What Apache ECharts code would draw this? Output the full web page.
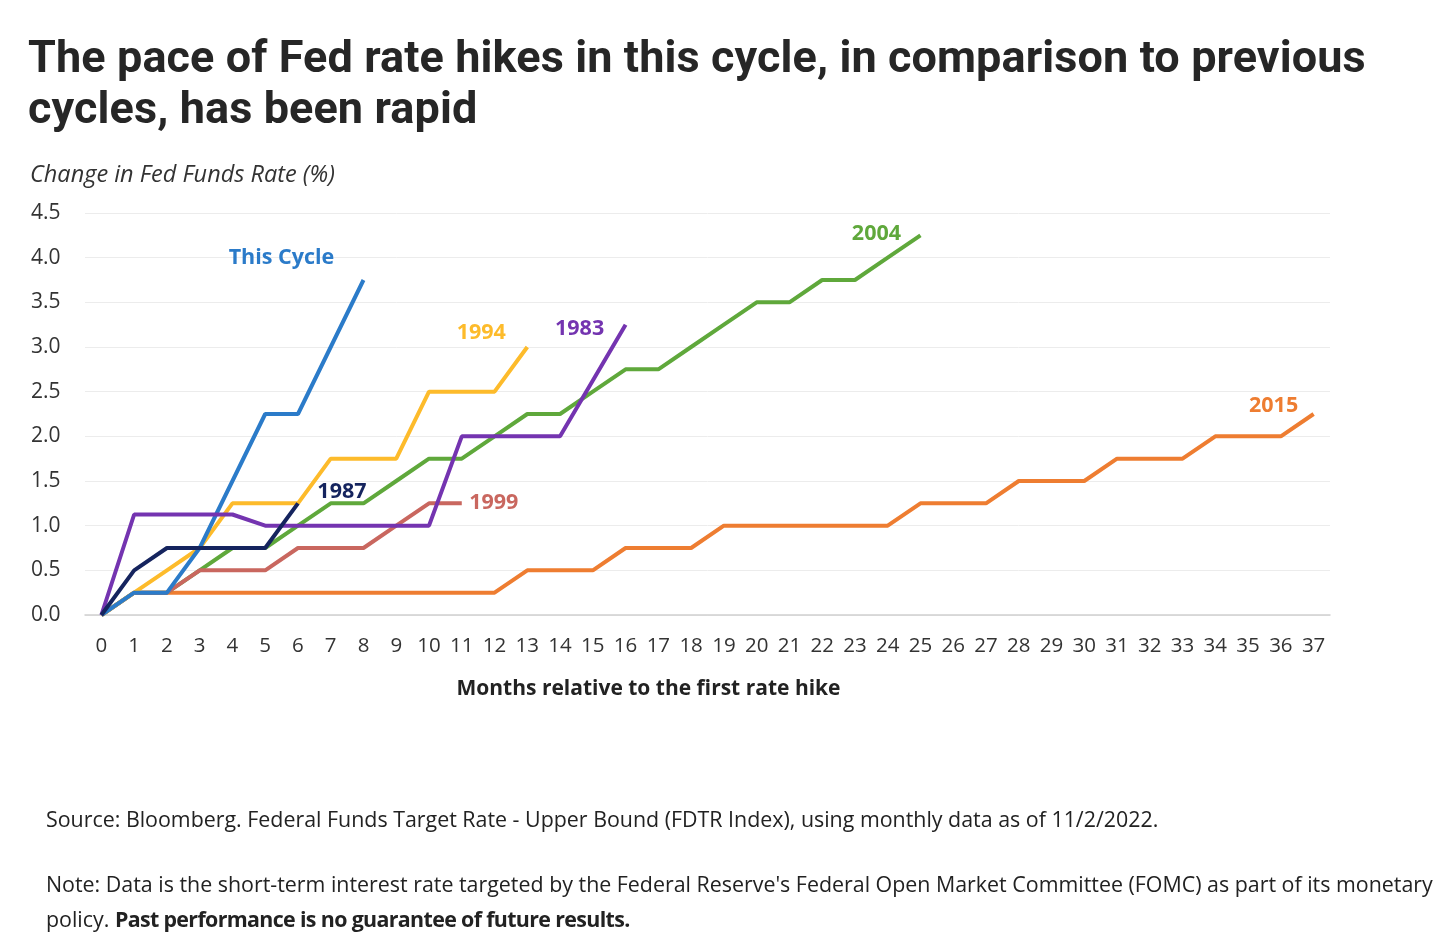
<!DOCTYPE html>
<html>
<head>
<meta charset="utf-8">
<script src="https://cdn.jsdelivr.net/npm/echarts@6/dist/echarts.min.js"></script>
<style>
  html, body { margin: 0; padding: 0; background: #fff; }
  body { width: 1456px; height: 950px; position: relative; overflow: hidden; font-family: "Open Sans", sans-serif; }
  #title { position: absolute; left: 28px; top: 31px; font-family: Roboto, sans-serif; font-weight: 700; font-size: 45px; line-height: 51px; color: #262626; letter-spacing: 0.1px; }
  #chart { position: absolute; left: 0; top: 0; width: 1456px; height: 950px; }
  .foot { position: absolute; left: 46px; font-size: 21.4px; color: #222; line-height: 35px; }
  .foot b { letter-spacing: -0.65px; }
</style>
</head>
<body>
<div id="chart"></div>
<div id="title">The pace of Fed rate hikes in this cycle, in comparison to previous<br>cycles, has been rapid</div>
<div class="foot" style="top:801px;">Source: Bloomberg. Federal Funds Target Rate - Upper Bound (FDTR Index), using monthly data as of 11/2/2022.</div>
<div class="foot" style="top:866px;">Note: Data is the short-term interest rate targeted by the Federal Reserve's Federal Open Market Committee (FOMC) as part of its monetary<br>policy. <b>Past performance is no guarantee of future results.</b></div>
<script>
const months = Array.from({length: 38}, (_, i) => String(i));
const thisCycle = [0, 0.25, 0.25, 0.75, 1.5, 2.25, 2.25, 3.0, 3.75];
const y1994 = [0, 0.25, 0.5, 0.75, 1.25, 1.25, 1.25, 1.75, 1.75, 1.75, 2.5, 2.5, 2.5, 3.0];
const y1983 = [0, 1.125, 1.125, 1.125, 1.125, 1.0, 1.0, 1.0, 1.0, 1.0, 1.0, 2.0, 2.0, 2.0, 2.0, 2.625, 3.25];
const y1987 = [0, 0.5, 0.75, 0.75, 0.75, 0.75, 1.25];
const y1999 = [0, 0.25, 0.25, 0.5, 0.5, 0.5, 0.75, 0.75, 0.75, 1.0, 1.25, 1.25];
const y2004 = [0, 0.25, 0.25, 0.5, 0.75, 0.75, 1.0, 1.25, 1.25, 1.5, 1.75, 1.75, 2.0, 2.25, 2.25, 2.5, 2.75, 2.75, 3.0, 3.25, 3.5, 3.5, 3.75, 3.75, 4.0, 4.25];
const y2015 = [0, 0.25, 0.25, 0.25, 0.25, 0.25, 0.25, 0.25, 0.25, 0.25, 0.25, 0.25, 0.25, 0.5, 0.5, 0.5, 0.75, 0.75, 0.75, 1.0, 1.0, 1.0, 1.0, 1.0, 1.0, 1.25, 1.25, 1.25, 1.5, 1.5, 1.5, 1.75, 1.75, 1.75, 2.0, 2.0, 2.0, 2.25];
const yTicks = [0, 0.5, 1.0, 1.5, 2.0, 2.5, 3.0, 3.5, 4.0, 4.5];

function mk(name, data, color, offset, z) {
  return {
    name: name, type: 'line', data: data, z: z,
    symbol: 'none', lineStyle: { width: 4, color: color }, itemStyle: { color: color },
    markPoint: {
      symbol: 'circle', symbolSize: 1, itemStyle: { color: 'rgba(0,0,0,0)' },
      label: { show: true, position: 'inside', offset: offset, formatter: name,
               color: color, fontSize: 21.5, fontWeight: 'bold', fontFamily: 'Open Sans' },
      data: [{ coord: [data.length - 1, data[data.length - 1]] }]
    }
  };
}

const chart = echarts.init(document.getElementById('chart'));
chart.setOption({
  animation: false,
  title: { text: 'Change in Fed Funds Rate (%)', left: 25, top: 159,
           textStyle: { fontSize: 23.5, fontStyle: 'italic', fontWeight: 'normal', color: '#333', fontFamily: 'Open Sans' } },
  grid: { left: 85, right: 126, top: 213, bottom: 335 },
  xAxis: {
    type: 'category', data: months, boundaryGap: true,
    axisTick: { show: false },
    axisLine: { lineStyle: { color: '#cfcfcf', width: 1.5 } },
    axisLabel: { color: '#333', fontSize: 20.5, margin: 21, interval: 0, fontFamily: 'Open Sans' },
    name: 'Months relative to the first rate hike', nameLocation: 'middle', nameGap: 64,
    nameTextStyle: { fontSize: 21, fontWeight: 'bold', color: '#222', fontFamily: 'Open Sans', padding: [0, 118, 0, 0] }
  },
  yAxis: {
    type: 'value', min: 0, max: 4.5, interval: 0.5,
    axisLine: { show: false }, axisTick: { show: false },
    splitLine: { lineStyle: { color: '#ececec', width: 1 } },
    axisLabel: { color: '#333', fontSize: 21, margin: 54, align: 'left', fontFamily: 'Open Sans',
                 formatter: v => yTicks.includes(v) ? v.toFixed(1) : '' }
  },
  series: [
    mk('2015', y2015, '#ee7d31', [-40, -8], 2),
    mk('2004', y2004, '#5fa83b', [-44, -1], 3),
    mk('1999', y1999, '#c9675f', [32, 0], 4),
    mk('1994', y1994, '#fdbb2b', [-46, -14], 5),
    mk('This Cycle', thisCycle, '#2b7bc9', [-82, -22], 6),
    mk('1983', y1983, '#7434b0', [-46, 4], 7),
    mk('1987', y1987, '#15245e', [44, -11], 8)
  ]
});
</script>
</body>
</html>
